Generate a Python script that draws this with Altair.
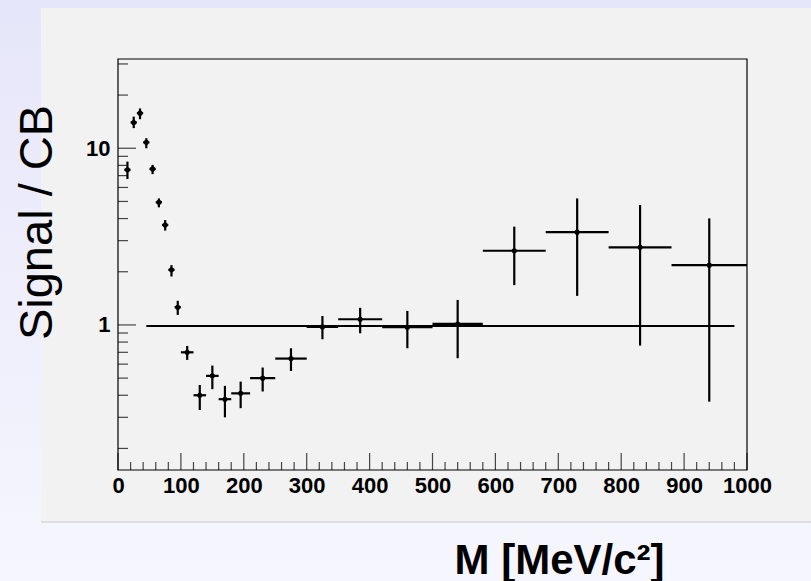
import altair as alt
import pandas as pd

# ---- data ----
centers = [15, 25, 35, 45, 55, 65, 75, 85, 95, 110, 130, 150, 170, 195, 230, 275,
           325, 385, 460, 540, 630, 730, 830, 940]
bin_lo = [10, 20, 30, 40, 50, 60, 70, 80, 90, 100, 120, 140, 160, 180, 210, 250,
          300, 350, 420, 500, 580, 680, 780, 880]
bin_hi = [20, 30, 40, 50, 60, 70, 80, 90, 100, 120, 140, 160, 180, 210, 250, 300,
          350, 420, 500, 580, 680, 780, 880, 1000]
ratio = [7.55, 14.0, 15.8, 10.8, 7.64, 4.95, 3.68, 2.05, 1.26, 0.70, 0.40, 0.515,
         0.38, 0.41, 0.50, 0.645, 0.975, 1.077, 0.97, 1.013, 2.63, 3.35, 2.75, 2.18]
err_low = [6.7, 13.0, 14.6, 10.0, 7.14, 4.63, 3.42, 1.88, 1.14, 0.634, 0.33, 0.433,
           0.30, 0.338, 0.42, 0.549, 0.83, 0.897, 0.738, 0.648, 1.68, 1.46, 0.764, 0.368]
err_high = [8.4, 15.1, 16.8, 11.4, 8.05, 5.2, 3.92, 2.18, 1.37, 0.76, 0.457, 0.589,
            0.452, 0.478, 0.574, 0.738, 1.124, 1.25, 1.2, 1.385, 3.6, 5.2, 4.77, 4.01]

ref_x_start = [45]
ref_x_end = [980]
ref_level = [0.985]

x_major = list(range(0, 1001, 100))
x_minor = [v for v in range(0, 1001, 20) if v % 100 != 0]
y_major = [1, 10]
y_minor = [0.2, 0.3, 0.4, 0.5, 0.6, 0.7, 0.8, 0.9,
           2, 3, 4, 5, 6, 7, 8, 9, 20, 30]

W, H = 629, 411
PAD_L, PAD_T, PAD_R, PAD_B = 118, 59, 64, 111

df = pd.DataFrame({"m": centers, "lo": bin_lo, "hi": bin_hi, "r": ratio,
                   "elo": err_low, "ehi": err_high})
ref = pd.DataFrame({"x1": ref_x_start, "x2": ref_x_end, "y": ref_level})
one = pd.DataFrame({"a": [0]})

FONT = "Liberation Sans"
xscale = alt.Scale(domain=[0, 1000], nice=False, zero=False)
yscale = alt.Scale(type="log", domain=[0.151, 32], nice=False)

xaxis = alt.Axis(values=x_major, format="d", title="M [MeV/c²]", ticks=False,
                 domain=False, grid=False, labelFont=FONT, labelFontWeight="bold",
                 labelFontSize=22, labelColor="black", labelPadding=5, labelAngle=0,
                 labelFlush=False, labelOverlap=False,
                 titleFont=FONT, titleFontSize=42, titleFontWeight="bold",
                 titleColor="black", titleX=441, titleY=103, titleAlign="center",
                 titleBaseline="alphabetic", zindex=1)
yaxis = alt.Axis(values=y_major, format="~g", title="Signal / CB", ticks=False,
                 domain=False, grid=False, labelFont=FONT, labelFontWeight="bold",
                 labelFontSize=22, labelColor="black", labelPadding=8,
                 labelFlush=False, labelOverlap=False,
                 titleFont=FONT, titleFontSize=47, titleFontWeight="normal",
                 titleColor="black", titleAngle=270, titleX=-67, titleY=163,
                 titleAlign="center", titleBaseline="alphabetic", zindex=1)

# decorations: outer gradient backdrop, inner pad, frame
backdrop = alt.Chart(one).mark_rect(
    color=alt.Gradient(gradient="linear",
                       stops=[alt.GradientStop(color="#e6e6fa", offset=0),
                              alt.GradientStop(color="#f6f6fe", offset=1)],
                       x1=0, x2=0, y1=0, y2=1)
).encode(x=alt.value(-PAD_L), x2=alt.value(W + PAD_R),
         y=alt.value(-PAD_T), y2=alt.value(H + PAD_B))

pad = alt.Chart(one).mark_rect(color="#f2f2f2").encode(
    x=alt.value(-77), x2=alt.value(W + PAD_R), y=alt.value(-51), y2=alt.value(463))

pad_edge = alt.Chart(one).mark_rule(color="#c8c8c8", strokeWidth=1).encode(
    x=alt.value(-77), x2=alt.value(W + PAD_R), y=alt.value(463))

frame = alt.Chart(one).mark_rect(filled=False, stroke="black", strokeWidth=1.2).encode(
    x=alt.value(0), x2=alt.value(W), y=alt.value(0), y2=alt.value(H))

# inward ticks
tick_style = dict(color="#444444", strokeWidth=1.2)
xmaj = alt.Chart(pd.DataFrame({"t": x_major})).mark_rule(**tick_style).encode(
    x=alt.X("t:Q", scale=xscale, axis=xaxis), y=alt.value(H), y2=alt.value(H - 17))
xmin = alt.Chart(pd.DataFrame({"t": x_minor})).mark_rule(**tick_style).encode(
    x=alt.X("t:Q", scale=xscale, axis=xaxis), y=alt.value(H), y2=alt.value(H - 8))
ymaj = alt.Chart(pd.DataFrame({"t": y_major})).mark_rule(**tick_style).encode(
    y=alt.Y("t:Q", scale=yscale, axis=yaxis), x=alt.value(0), x2=alt.value(18))
ymin = alt.Chart(pd.DataFrame({"t": y_minor})).mark_rule(**tick_style).encode(
    y=alt.Y("t:Q", scale=yscale, axis=yaxis), x=alt.value(0), x2=alt.value(10))

# reference line
refline = alt.Chart(ref).mark_rule(color="black", strokeWidth=2).encode(
    x=alt.X("x1:Q", scale=xscale, axis=xaxis), x2="x2:Q",
    y=alt.Y("y:Q", scale=yscale, axis=yaxis))

base = alt.Chart(df)
hbar = base.mark_rule(color="black", strokeWidth=2.2).encode(
    x=alt.X("lo:Q", scale=xscale, axis=xaxis), x2="hi:Q",
    y=alt.Y("r:Q", scale=yscale, axis=yaxis))
vbar = base.mark_rule(color="black", strokeWidth=2.2).encode(
    x=alt.X("m:Q", scale=xscale, axis=xaxis),
    y=alt.Y("elo:Q", scale=yscale, axis=yaxis), y2="ehi:Q")
pts = base.mark_circle(color="black", size=26, opacity=1).encode(
    x=alt.X("m:Q", scale=xscale, axis=xaxis),
    y=alt.Y("r:Q", scale=yscale, axis=yaxis))

chart = alt.layer(backdrop, pad, pad_edge, xmaj, xmin, ymaj, ymin, frame,
                  refline, hbar, vbar, pts).properties(
    width=W, height=H,
    autosize=alt.AutoSizeParams(type="none"),
    padding={"left": PAD_L, "top": PAD_T, "right": PAD_R, "bottom": PAD_B},
    background="#eeeefb",
).configure_view(stroke=None)

chart.save("out.html", embed_options={"renderer": "svg", "actions": False})
